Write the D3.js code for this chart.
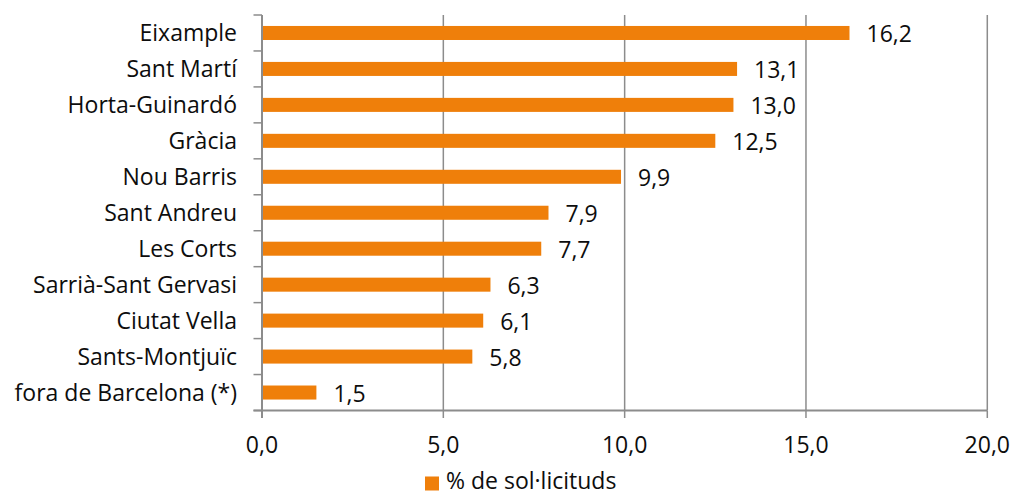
<!DOCTYPE html>
<html><head><meta charset="utf-8">
<script src="https://cdn.jsdelivr.net/npm/d3@7"></script>
<style>
body{margin:0;background:#fff;}
svg text{font-family:"Open Sans", Lato, sans-serif;fill:#0d0d0d;}
</style></head>
<body><svg id="c" width="1013" height="495"></svg>
<script>
const categories = ["Eixample","Sant Martí","Horta-Guinardó","Gràcia","Nou Barris","Sant Andreu","Les Corts","Sarrià-Sant Gervasi","Ciutat Vella","Sants-Montjuïc","fora de Barcelona (*)"];
const values = [16.2,13.1,13.0,12.5,9.9,7.9,7.7,6.3,6.1,5.8,1.5];
const xTicks = [0,5,10,15,20];
const seriesName = "% de sol·licituds";

const svg = d3.select("#c");
const L = 262, R = 987.3, T = 15, B = 410.5;
const FS = 23;
const x = d3.scaleLinear().domain([0,20]).range([L,R]);
const y = d3.scaleBand().domain(categories).range([T,B]).paddingInner(0.61).paddingOuter(0.305);
const fmt = v => v.toFixed(1).replace(".", ",");
const gridColor = "#8c8c8c";

// gridlines
svg.append("g").selectAll("line").data(xTicks.slice(1)).join("line")
  .attr("x1", d=>x(d)).attr("x2", d=>x(d)).attr("y1", T).attr("y2", B)
  .attr("stroke", gridColor).attr("stroke-width", 1.5);

// bars
svg.append("g").selectAll("rect").data(values).join("rect")
  .attr("x", x(0)).attr("y", (d,i)=>y(categories[i]))
  .attr("width", d=>x(d)-x(0)).attr("height", y.bandwidth())
  .attr("fill", "#EF7F0A");

// value labels
svg.append("g").selectAll("text").data(values).join("text")
  .attr("x", d=>x(d)+17).attr("y", (d,i)=>y(categories[i])+y.bandwidth()/2+9.5)
  .attr("font-size", FS).text(fmt);

// left axis line & ticks
const step = y.step();
svg.append("line").attr("x1", L).attr("x2", L).attr("y1", T).attr("y2", B+7.5)
  .attr("stroke", gridColor).attr("stroke-width", 2);
svg.append("g").selectAll("line").data(d3.range(categories.length+1)).join("line")
  .attr("x1", L-8.5).attr("x2", L).attr("y1", i=>T+i*step).attr("y2", i=>T+i*step)
  .attr("stroke", gridColor).attr("stroke-width", 1.5);
// bottom axis line & ticks
svg.append("line").attr("x1", L-8.5).attr("x2", R).attr("y1", B).attr("y2", B)
  .attr("stroke", gridColor).attr("stroke-width", 2);
svg.append("g").selectAll("line").data(xTicks).join("line")
  .attr("x1", d=>x(d)).attr("x2", d=>x(d)).attr("y1", B).attr("y2", B+7.5)
  .attr("stroke", gridColor).attr("stroke-width", 1.5);

// category labels
svg.append("g").selectAll("text").data(categories).join("text")
  .attr("x", 237).attr("y", d=>y(d)+y.bandwidth()/2+8)
  .attr("text-anchor", "end").attr("font-size", FS).text(d=>d);

// x tick labels
svg.append("g").selectAll("text").data(xTicks).join("text")
  .attr("x", d=>x(d)).attr("y", 453).attr("text-anchor", "middle")
  .attr("font-size", FS).text(fmt);

// legend
svg.append("rect").attr("x", 425).attr("y", 476.5).attr("width", 14).attr("height", 14).attr("fill", "#EF7F0A");
svg.append("text").attr("x", 446).attr("y", 488.5).attr("font-size", FS).text(seriesName);
</script></body></html>
